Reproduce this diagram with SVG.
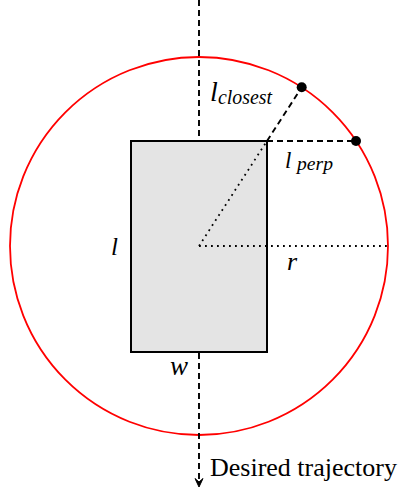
<svg xmlns="http://www.w3.org/2000/svg" width="398" height="495" viewBox="0 0 398 495">
<style>
.dash{fill:none;stroke:#000;stroke-width:1.9;stroke-dasharray:6,4}
.dot{fill:none;stroke:#000;stroke-width:1.8;stroke-dasharray:1.8,4.2}
.lab{font-family:"Liberation Serif","Times New Roman",serif;font-style:italic;fill:#000}
.txt{font-family:"Liberation Serif","Times New Roman",serif;fill:#000}
</style>
<rect width="398" height="495" fill="#fff"/>
<g id="circle">
<circle cx="199" cy="246" r="189" fill="none" stroke="#ff0000" stroke-width="1.8"/>
</g>
<g id="vehicle">
<rect x="131" y="141" width="136" height="211" fill="#e4e4e4" stroke="#000" stroke-width="2"/>
</g>
<g id="connectors">
<line class="dash" x1="199" y1="0" x2="199" y2="140"/>
<line class="dash" x1="199" y1="353" x2="199" y2="484"/>
<path d="M195,478.5 L199,487 L203,478.5 L199,482 Z" fill="#000" stroke="#000" stroke-width="1"/>
<line class="dash" x1="267" y1="141" x2="301.7" y2="87.3"/>
<line class="dash" x1="267" y1="141" x2="356" y2="141"/>
<line class="dot" x1="199" y1="246" x2="267" y2="141"/>
<line class="dot" x1="199" y1="246" x2="388" y2="246"/>
</g>
<g id="points">
<circle cx="301.7" cy="87.3" r="5" fill="#000"/>
<circle cx="356" cy="141" r="5" fill="#000"/>
</g>
<g id="labels">
<text class="lab" x="210" y="101" font-size="28">l</text>
<text class="lab" x="218" y="104" font-size="22" textLength="54" lengthAdjust="spacingAndGlyphs">closest</text>
<text class="lab" x="285" y="168" font-size="23">l</text>
<text class="lab" x="297" y="170" font-size="19" textLength="36" lengthAdjust="spacingAndGlyphs">perp</text>
<text class="lab" x="111" y="255" font-size="25">l</text>
<text class="lab" x="287" y="270" font-size="26">r</text>
<text class="lab" x="170" y="375" font-size="27">w</text>
<text class="txt" x="210" y="476" font-size="26" textLength="187" lengthAdjust="spacingAndGlyphs">Desired trajectory</text>
</g>
</svg>
